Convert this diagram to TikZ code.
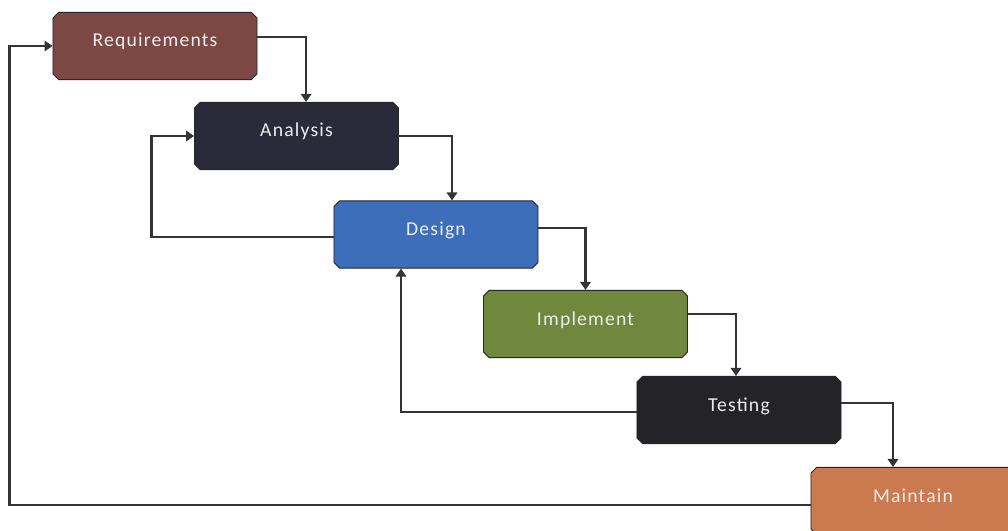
\documentclass[tikz,border=0pt]{standalone}
\usepackage{fontspec}
\newfontfamily\stagefont[LetterSpace=6]{Carlito}
\usetikzlibrary{arrows.meta,shapes.misc}
\definecolor{reqcol}{RGB}{124,72,68}
\definecolor{anacol}{RGB}{42,42,58}
\definecolor{descol}{RGB}{60,110,185}
\definecolor{impcol}{RGB}{112,135,62}
\definecolor{tescol}{RGB}{36,36,40}
\definecolor{maicol}{RGB}{202,122,78}
\definecolor{linecol}{RGB}{52,52,56}
\tikzset{
  stage/.style={chamfered rectangle,chamfered rectangle xsep=2pt,chamfered rectangle ysep=2pt,
    draw=black!85,line width=0.6pt,minimum width=5.1cm,minimum height=1.68cm,inner sep=0pt,
    text=white!86!gray,font=\stagefont\fontsize{14}{16}\selectfont,
    text height=0.4cm,text depth=0.35cm},
  flow/.style={-{Triangle[length=2mm,width=2.6mm]},draw=linecol,line width=1.7pt},
  back/.style={flow}
}
\begin{document}
\begin{tikzpicture}[x=0.025cm,y=-0.025cm]
  \useasboundingbox (0,0) rectangle (1008,531);
  \clip (0,0) rectangle (1008,531);
  \fill[white] (0,0) rectangle (1008,531);

  \node[stage,fill=reqcol] (req) at (155,46)    {Requirements};
  \node[stage,fill=anacol] (ana) at (296.5,136) {Analysis};
  \node[stage,fill=descol] (des) at (436,234.5) {Design};
  \node[stage,fill=impcol] (imp) at (585.5,324) {Implement};
  \node[stage,fill=tescol] (tes) at (739,410)   {Testing};
  \node[stage,fill=maicol] (mai) at (913,501)   {Maintain};

  \draw[flow] ([yshift=0.22cm]req.east)  -| ([xshift=0.24cm]ana.north);
  \draw[flow] (ana.east)                 -| ([xshift=0.4cm]des.north);
  \draw[flow] ([yshift=0.16cm]des.east)  -| (imp.north);
  \draw[flow] ([yshift=0.25cm]imp.east)  -| ([xshift=-0.075cm]tes.north);
  \draw[flow] ([yshift=0.175cm]tes.east) -| ([xshift=-0.5cm]mai.north);

  \draw[back] ([yshift=-0.06cm]des.west) -- ++(-182,0) |- (ana.west);
  \draw[back] ([yshift=-0.05cm]tes.west) -| ([xshift=-0.875cm]des.south);
  \draw[back] ([yshift=-0.1cm]mai.west)  -- ++(-801,0) |- (req.west);
\end{tikzpicture}
\end{document}
